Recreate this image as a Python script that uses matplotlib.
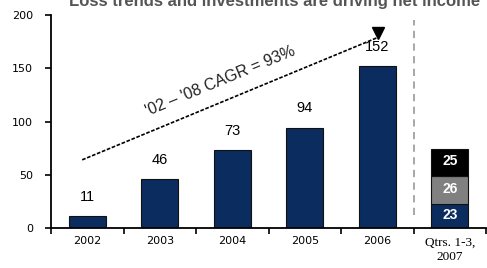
import matplotlib.pyplot as plt
import numpy as np

# data
categories = ["2002", "2003", "2004", "2005", "2006", "Qtrs. 1-3,\n2007"]
annual = [11, 46, 73, 94, 152]
q_parts = [23, 26, 25]
q_colors = ["#0b2c5f", "#808080", "#000000"]
trend_x = [-0.07, 4.01]
trend_y = [64, 179]
title = "Loss trends and investments are driving net income"
cagr_text = "'02 – '08 CAGR = 93%"

navy = "#0b2c5f"

fig = plt.figure(figsize=(4.87, 2.68), dpi=100)
ax = fig.add_axes([51 / 487, 40 / 268, 435 / 487, 213 / 268])

x = np.arange(len(categories))
w = 0.51

# annual bars
ax.bar(x[:5], annual, width=w, color=navy, edgecolor="#111111", linewidth=0.8, zorder=2)
for xi, v in zip(x[:5], annual):
    ax.annotate(str(v), (xi, v), xytext=(0, 14), textcoords="offset points",
                ha="center", va="center", fontsize=10.5, family="Liberation Sans")

# stacked bar for Qtrs 1-3
bottom = 0
for v, c in zip(q_parts, q_colors):
    ax.bar(x[5], v, width=w, bottom=bottom, color=c, edgecolor="#111111", linewidth=0.8, zorder=2)
    ax.text(x[5], bottom + v / 2 + 1, str(v), ha="center", va="center", color="white",
            fontsize=10, fontweight="bold", family="Liberation Sans")
    bottom += v

# trend arrow
ax.plot(trend_x, trend_y, color="black", linestyle=(0, (2.2, 1.0)), linewidth=1.2, zorder=3)
ax.plot(trend_x[1], trend_y[1] + 4, marker="v", color="black", markersize=9, zorder=4)
ax.text(1.84, 138, cagr_text, rotation=22.5, rotation_mode="anchor", ha="center", va="center",
        fontsize=11.5, family="Liberation Sans", color="#222222")

# divider
ax.plot([4.5, 4.5], [12, 195], color="#a0a0a0", linestyle=(0, (4, 3)), linewidth=1.3, zorder=1)

ax.set_xlim(-0.5, 5.5)
ax.set_ylim(0, 200)
ax.set_yticks([0, 50, 100, 150, 200])
ax.tick_params(axis="y", direction="out", length=4, width=1.2, pad=9, labelsize=8)
for lab in ax.get_yticklabels():
    lab.set_family("DejaVu Sans")

ax.set_xticks(np.arange(-0.5, 6, 1.0))
ax.set_xticklabels([])
ax.tick_params(axis="x", which="major", direction="out", length=4, width=1.2)
ax.set_xticks(x, minor=True)
ax.set_xticklabels(categories, minor=True, fontsize=8)
ax.tick_params(axis="x", which="minor", length=0, pad=6)
labs = ax.get_xticklabels(minor=True)
for lab in labs[:5]:
    lab.set_family("DejaVu Sans")
labs[5].set_family("Liberation Serif")
labs[5].set_fontsize(9.5)
labs[5].set_linespacing(1.25)

for s in ["top", "right"]:
    ax.spines[s].set_visible(False)
for s in ["left", "bottom"]:
    ax.spines[s].set_linewidth(1.3)

fig.text(275 / 487, 1 - 6 / 268, title, ha="center", va="baseline", fontsize=12,
         fontweight="bold", color="#555555", family="Liberation Sans")

fig.savefig("out.png", dpi=100)
